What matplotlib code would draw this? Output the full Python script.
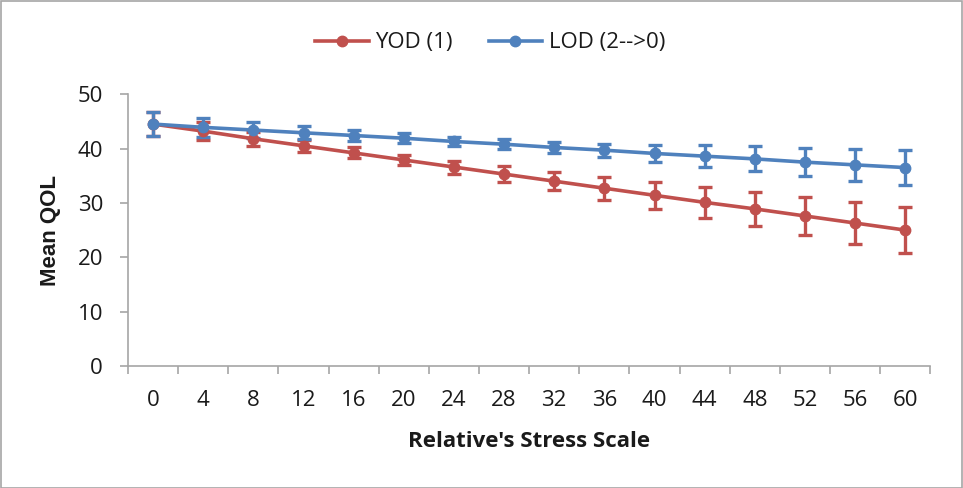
import numpy as np
import matplotlib.pyplot as plt
from matplotlib.patches import Rectangle
from matplotlib.lines import Line2D

# stress scale categories
scale = ['0', '4', '8', '12', '16', '20', '24', '28', '32', '36', '40', '44', '48', '52', '56', '60']

# YOD (1)
yod_mean = [44.5, 43.2, 41.8, 40.5, 39.2, 37.9, 36.6, 35.3, 34.0, 32.7, 31.4, 30.1, 28.9, 27.6, 26.3, 25.0]
yod_err = [2.2, 1.6, 1.3, 1.1, 1.0, 1.0, 1.2, 1.4, 1.7, 2.1, 2.5, 2.8, 3.1, 3.5, 3.8, 4.2]

# LOD (2-->0)
lod_mean = [44.5, 43.9, 43.4, 42.9, 42.4, 41.9, 41.3, 40.8, 40.2, 39.7, 39.1, 38.6, 38.1, 37.5, 37.0, 36.5]
lod_err = [2.2, 1.8, 1.5, 1.2, 1.0, 0.9, 0.8, 0.9, 1.0, 1.2, 1.6, 2.0, 2.3, 2.6, 2.9, 3.2]

red = '#C0504D'
blue = '#4F81BD'
grey = '#A6A6A6'

plt.rcParams['font.family'] = ['Open Sans', 'DejaVu Sans']

fig = plt.figure(figsize=(9.63, 4.88), dpi=100)
ax = fig.add_axes([0.133, 0.25, 0.833, 0.557])

x = np.arange(len(scale))
ax.errorbar(x, yod_mean, yerr=yod_err, color=red, lw=2.6, marker='o', ms=7.5,
            elinewidth=2.4, capsize=5, capthick=2.4)
ax.errorbar(x, lod_mean, yerr=lod_err, color=blue, lw=2.6, marker='o', ms=7.5,
            elinewidth=2.4, capsize=5, capthick=2.4)

ax.set_xlim(-0.5, len(scale) - 0.5)
ax.set_ylim(0, 50)
ax.set_yticks([0, 10, 20, 30, 40, 50])

# category axis: ticks between categories, labels at centers
ax.set_xticks(np.arange(len(scale) + 1) - 0.5)
ax.set_xticklabels([])
ax.set_xticks(x, minor=True)
ax.set_xticklabels(scale, minor=True)
ax.tick_params(axis='x', which='minor', length=0, pad=17, labelsize=16, colors='#1a1a1a')
ax.tick_params(axis='x', which='major', length=6, width=1.2, color=grey)
ax.tick_params(axis='y', length=6, width=1.2, color=grey, labelsize=16, pad=12,
               labelcolor='#1a1a1a')

for s in ['top', 'right']:
    ax.spines[s].set_visible(False)
for s in ['left', 'bottom']:
    ax.spines[s].set_color(grey)
    ax.spines[s].set_linewidth(1.2)

ax.set_xlabel("Relative's Stress Scale", fontsize=16, fontweight='bold', labelpad=15,
              color='#1a1a1a')
ax.set_ylabel('Mean QOL', fontsize=16, fontweight='bold', labelpad=12,
              family=['Liberation Sans', 'DejaVu Sans'], color='#1a1a1a')

handles = [Line2D([], [], color=red, lw=2.6, marker='o', ms=7.5),
           Line2D([], [], color=blue, lw=2.6, marker='o', ms=7.5)]
leg = fig.legend(handles, ['YOD (1)', 'LOD (2-->0)'], loc='center',
                 bbox_to_anchor=(0.509, 0.912), ncol=2, frameon=False,
                 fontsize=16, handlelength=2.4, columnspacing=1.6, handletextpad=0.3)
for t in leg.get_texts():
    t.set_color('#1a1a1a')

fig.patches.append(Rectangle((0.001, 0.001), 0.998, 0.997, transform=fig.transFigure,
                             fill=False, edgecolor=grey, lw=1.2))

fig.savefig('out.png', dpi=100)
